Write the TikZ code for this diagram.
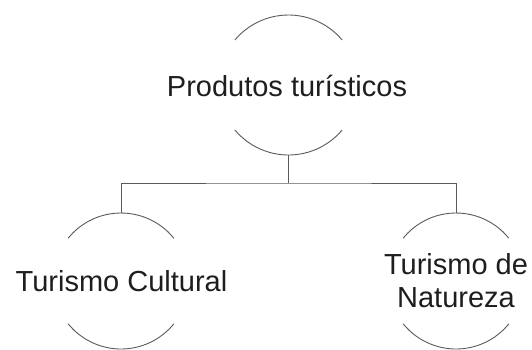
\documentclass[tikz,border=0pt]{standalone}
\usepackage{fontspec}
\setmainfont{Liberation Sans}
\usetikzlibrary{calc}
\definecolor{linegray}{HTML}{5A5A5A}
\definecolor{textdark}{HTML}{1E1E1E}
\tikzset{
  holder/.style={circle, minimum size=#1, inner sep=0pt, outer sep=0pt},
  arcline/.style={draw=linegray, line width=0.9pt},
  conn/.style={draw=linegray, line width=0.9pt},
  label/.style={text=textdark, font=\fontsize{29}{33}\selectfont, inner sep=0pt, align=center}
}
\begin{document}
\begin{tikzpicture}[x=1pt,y=1pt]
\useasboundingbox (0,0) rectangle (532,-349);
% invisible circle holders
\node[holder=140pt] (top) at (288.5,-85) {};
\node[holder=136pt] (left) at (121,-281) {};
\node[holder=136pt] (right) at (456,-281) {};
% arcs
\draw[arcline] (top.40) arc (40:140:70pt);
\draw[arcline] (top.220) arc (220:320:70pt);
\draw[arcline] (left.39) arc (39:141:68pt);
\draw[arcline] (left.219) arc (219:321:68pt);
\draw[arcline] (right.39) arc (39:141:68pt);
\draw[arcline] (right.219) arc (219:321:68pt);
% texts
\node[label, anchor=base] (ttop) at (287,-96) {Produtos turísticos};
\node[label, anchor=base] (tleft) at (121.5,-291) {Turismo Cultural};
\node[label, anchor=center] (tright) at (456,-280.5) {Turismo de\\Natureza};
% connectors
\coordinate (bar) at (288.5,-183);
\draw[conn] (top.south) -- (bar);
\draw[conn] (left.north) |- (bar) -| (right.north);
\end{tikzpicture}
\end{document}
